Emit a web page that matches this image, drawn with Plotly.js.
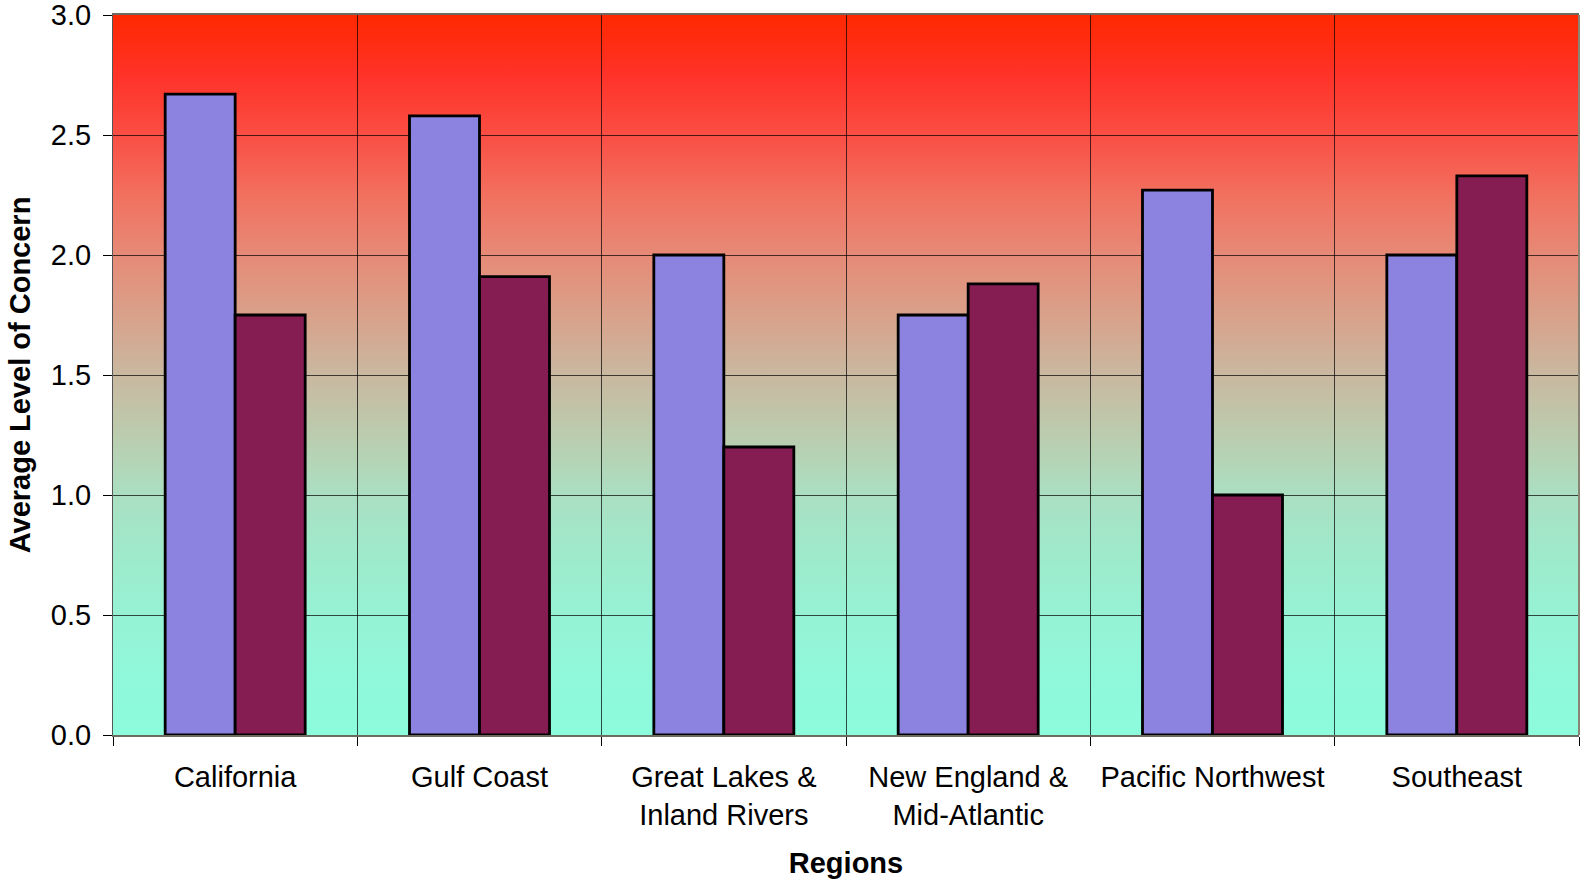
<!DOCTYPE html>
<html>
<head>
<meta charset="utf-8">
<script src="https://cdn.plot.ly/plotly-3.0.1.min.js"></script>
<style>
  html, body { margin: 0; padding: 0; background: #fff; }
  #wrap { position: relative; width: 1581px; height: 879px; }
  #bg { position: absolute; z-index: 0; }
  #chart { position: absolute; left: 0; top: 0; width: 1581px; height: 879px; z-index: 1; }
</style>
</head>
<body>
<div id="wrap">
  <div id="bg"></div>
  <div id="chart"></div>
</div>
<script>
// Data
const regions = [
  "California",
  "Gulf Coast",
  "Great Lakes &<br>Inland Rivers",
  "New England &<br>Mid-Atlantic",
  "Pacific Northwest",
  "Southeast"
];
const series1Values = [2.67, 2.58, 2.0, 1.75, 2.27, 2.0];
const series2Values = [1.75, 1.91, 1.2, 1.88, 1.0, 2.33];
const yTickValues = [0, 0.5, 1.0, 1.5, 2.0, 2.5, 3.0];
const yTickLabels = ["0.0", "0.5", "1.0", "1.5", "2.0", "2.5", "3.0"];

// Background gradient stops (value on y axis -> colour)
const gradStops = [
  [3.0, "#FF2800"], [2.75, "#FF3228"], [2.5, "#FA4E44"], [2.25, "#F2705F"],
  [2.0, "#E68A77"], [1.75, "#D9A18A"], [1.5, "#C9B8A0"], [1.25, "#BBCCAE"],
  [1.0, "#ABDFC2"], [0.75, "#9EEACB"], [0.5, "#96F2D4"], [0.25, "#90F8DA"],
  [0.0, "#8CFCDC"]
];

const W = 1581, H = 879;
const margin = { l: 113, r: 2, t: 15, b: 144, pad: 0 };
const yMax = 3.0;

const bg = document.getElementById("bg");
bg.style.left = margin.l + "px";
bg.style.top = margin.t + "px";
bg.style.width = (W - margin.l - margin.r) + "px";
bg.style.height = (H - margin.t - margin.b) + "px";
bg.style.background = "linear-gradient(to bottom, " +
  gradStops.map(s => s[1] + " " + ((yMax - s[0]) / yMax * 100).toFixed(2) + "%").join(", ") + ")";

const font = "Liberation Sans, Arial, Helvetica, sans-serif";
const fs = 29;

const traces = [
  {
    type: "bar", name: "Series 1", x: regions, y: series1Values,
    marker: { color: "#8C82E0", line: { color: "#000000", width: 2.8 } },
    hoverinfo: "x+y"
  },
  {
    type: "bar", name: "Series 2", x: regions, y: series2Values,
    marker: { color: "#861D52", line: { color: "#000000", width: 2.8 } },
    hoverinfo: "x+y"
  }
];

const layout = {
  width: W, height: H,
  margin: margin,
  paper_bgcolor: "rgba(0,0,0,0)",
  plot_bgcolor: "rgba(0,0,0,0)",
  showlegend: false,
  barmode: "group",
  bargap: 0.427,
  bargroupgap: 0,
  font: { family: font, color: "#000", size: fs },
  xaxis: {
    type: "category",
    tickson: "boundaries",
    ticks: "outside", ticklen: 9, tickcolor: "#000", tickwidth: 1,
    showgrid: true, gridcolor: "rgba(0,0,0,0.7)", gridwidth: 1,
    showline: true, linecolor: "#6e6a60", linewidth: 2, mirror: true,
    tickfont: { family: font, size: fs, color: "#000" },
    ticklabelstandoff: 15,
    ticklabeloverflow: "allow",
    title: { text: "<b>Regions</b>", font: { family: font, size: fs, color: "#000" }, standoff: 26 },
    automargin: false,
    fixedrange: true
  },
  yaxis: {
    range: [0, yMax],
    tickvals: yTickValues, ticktext: yTickLabels,
    ticks: "outside", ticklen: 9, tickcolor: "#000", tickwidth: 1,
    showgrid: true, gridcolor: "rgba(0,0,0,0.7)", gridwidth: 1,
    zeroline: false,
    showline: true, linecolor: "#555", linewidth: 1, mirror: false,
    tickfont: { family: font, size: fs, color: "#000" },
    ticklabelstandoff: 6,
    ticklabeloverflow: "allow",
    title: { text: "<b>Average Level of Concern</b>", font: { family: font, size: fs, color: "#000" }, standoff: 11 },
    automargin: false,
    fixedrange: true
  },
  shapes: [
    { type: "line", xref: "paper", yref: "paper", x0: 1, x1: 1, y0: 0, y1: 1,
      line: { color: "#8a8474", width: 2 } }
  ]
};

Plotly.newPlot("chart", traces, layout, { displayModeBar: false, staticPlot: true });
</script>
</body>
</html>
